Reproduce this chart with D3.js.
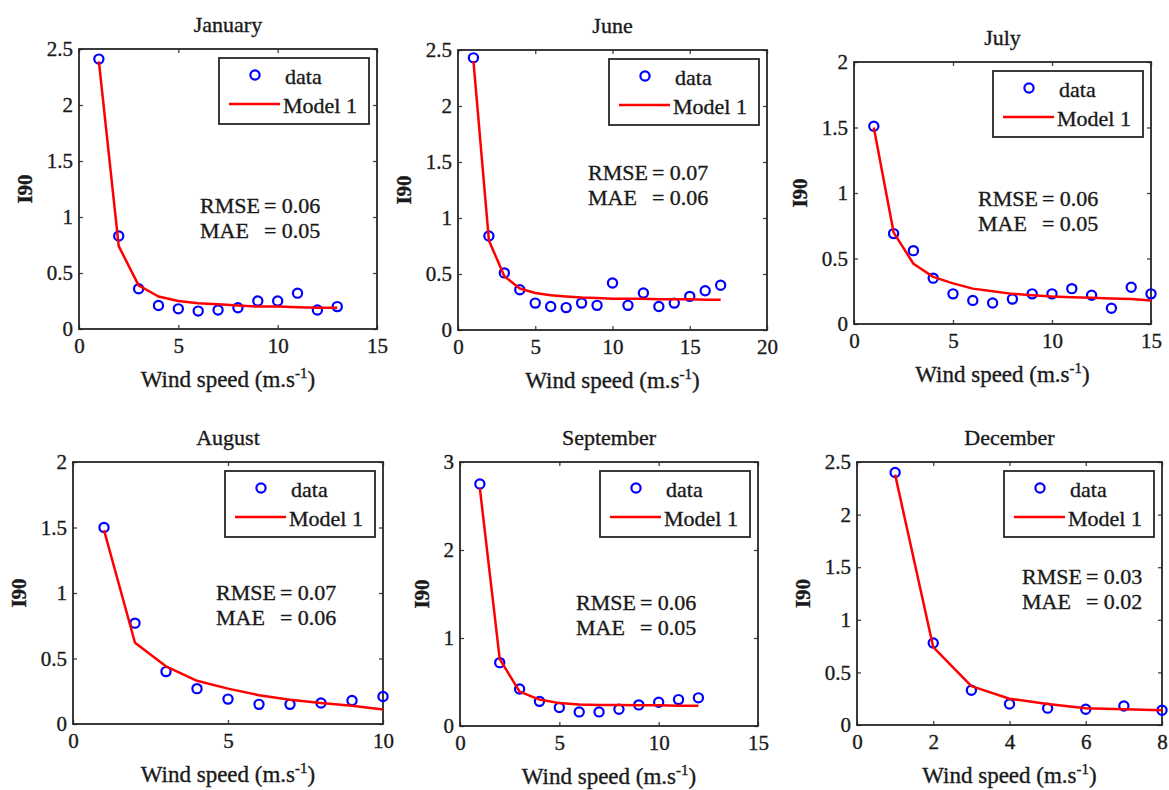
<!DOCTYPE html>
<html>
<head>
<meta charset="utf-8">
<script src="https://cdn.jsdelivr.net/npm/d3@7"></script>
<style>
  html, body { margin: 0; padding: 0; background: #fff; }
  svg { display: block; font-family: "Liberation Serif", "Times New Roman", serif; }
  svg text { stroke: #1a1a1a; stroke-width: 0.35px; fill: #1a1a1a; }
</style>
</head>
<body>
<svg id="chart" width="1169" height="790"></svg>
<script>
// ---- data -------------------------------------------------------------
const months = ["January", "June", "July", "August", "September", "December"];

const janSpeed    = [1, 2, 3, 4, 5, 6, 7, 8, 9, 10, 11, 12, 13];
const janObserved = [2.41, 0.83, 0.36, 0.21, 0.18, 0.16, 0.17, 0.19, 0.25, 0.25, 0.32, 0.17, 0.20];
const janModel    = [2.39, 0.74, 0.39, 0.29, 0.25, 0.23, 0.22, 0.21, 0.20, 0.20, 0.195, 0.19, 0.19];

const junSpeed    = [1, 2, 3, 4, 5, 6, 7, 8, 9, 10, 11, 12, 13, 14, 15, 16, 17];
const junObserved = [2.43, 0.84, 0.51, 0.36, 0.24, 0.21, 0.20, 0.24, 0.22, 0.42, 0.22, 0.33, 0.21, 0.24, 0.30, 0.35, 0.40];
const junModel    = [2.40, 0.80, 0.48, 0.37, 0.33, 0.31, 0.30, 0.29, 0.285, 0.28, 0.28, 0.28, 0.275, 0.275, 0.275, 0.27, 0.27];

const julSpeed    = [1, 2, 3, 4, 5, 6, 7, 8, 9, 10, 11, 12, 13, 14, 15];
const julObserved = [1.51, 0.69, 0.56, 0.35, 0.23, 0.18, 0.16, 0.19, 0.23, 0.23, 0.27, 0.22, 0.12, 0.28, 0.23];
const julModel    = [1.50, 0.70, 0.46, 0.36, 0.31, 0.27, 0.25, 0.23, 0.22, 0.21, 0.205, 0.20, 0.195, 0.19, 0.18];

const augSpeed    = [1, 2, 3, 4, 5, 6, 7, 8, 9, 10];
const augObserved = [1.50, 0.77, 0.40, 0.27, 0.19, 0.15, 0.15, 0.16, 0.18, 0.21];
const augModel    = [1.48, 0.62, 0.44, 0.33, 0.27, 0.22, 0.185, 0.16, 0.14, 0.11];

const sepSpeed    = [1, 2, 3, 4, 5, 6, 7, 8, 9, 10, 11, 12];
const sepObserved = [2.75, 0.72, 0.42, 0.28, 0.21, 0.16, 0.16, 0.19, 0.24, 0.27, 0.30, 0.32];
const sepModel    = [2.70, 0.76, 0.39, 0.30, 0.26, 0.245, 0.24, 0.24, 0.235, 0.235, 0.23, 0.23];

const decSpeed    = [1, 2, 3, 4, 5, 6, 7, 8];
const decObserved = [2.40, 0.78, 0.33, 0.20, 0.16, 0.15, 0.18, 0.14];
const decModel    = [2.38, 0.74, 0.37, 0.25, 0.20, 0.16, 0.15, 0.14];

const xTicks = [
  [0, 5, 10, 15],
  [0, 5, 10, 15, 20],
  [0, 5, 10, 15],
  [0, 5, 10],
  [0, 5, 10, 15],
  [0, 2, 4, 6, 8]
];
const yTicks = [
  [0, 0.5, 1, 1.5, 2, 2.5],
  [0, 0.5, 1, 1.5, 2, 2.5],
  [0, 0.5, 1, 1.5, 2],
  [0, 0.5, 1, 1.5, 2],
  [0, 1, 2, 3],
  [0, 0.5, 1, 1.5, 2, 2.5]
];
const rmseValues = ["0.06", "0.07", "0.06", "0.07", "0.06", "0.03"];
const maeValues  = ["0.05", "0.06", "0.05", "0.06", "0.05", "0.02"];

const seriesSpeed    = [janSpeed, junSpeed, julSpeed, augSpeed, sepSpeed, decSpeed];
const seriesObserved = [janObserved, junObserved, julObserved, augObserved, sepObserved, decObserved];
const seriesModel    = [janModel, junModel, julModel, augModel, sepModel, decModel];

// ---- layout -----------------------------------------------------------
// plot boxes: [left, top, right, bottom]
const boxes = [
  [79, 49, 377, 329],
  [458, 50, 767, 330],
  [854, 62, 1151, 324],
  [73, 462, 383, 724],
  [460, 462, 758, 726],
  [857, 462, 1162, 725]
];
// start / baseline of the error statistics text
const statsAt = [
  [200, 213], [588, 180], [978, 206],
  [216, 600], [576, 610], [1022, 584]
];

const INK = "#262626";
const svg = d3.select("#chart");

months.forEach((month, i) => {
  const [l, t, r, b] = boxes[i];
  const w = r - l, h = b - t;
  const xt = xTicks[i], yt = yTicks[i];

  const x = d3.scaleLinear().domain([xt[0], xt[xt.length - 1]]).range([0, w]);
  const y = d3.scaleLinear().domain([yt[0], yt[yt.length - 1]]).range([h, 0]);

  const g = svg.append("g").attr("transform", `translate(${l},${t})`);

  // axes with short inward ticks on all four sides
  const styleAxis = sel => {
    sel.select(".domain").remove();
    sel.attr("font-family", null).attr("font-size", null);
    sel.selectAll(".tick line").attr("stroke", "#444").attr("stroke-width", 1.3);
    sel.selectAll(".tick text").style("font-size", "21px");
  };
  g.append("g").attr("transform", `translate(0,${h})`)
    .call(d3.axisBottom(x).tickValues(xt).tickSize(-4).tickPadding(9).tickFormat(d3.format("")))
    .call(styleAxis);
  g.append("g")
    .call(d3.axisTop(x).tickValues(xt).tickSize(-4).tickFormat(""))
    .call(styleAxis);
  const leftAxis = g.append("g")
    .call(d3.axisLeft(y).tickValues(yt).tickSize(-4).tickPadding(6).tickFormat(d3.format("")))
    .call(styleAxis);
  g.append("g").attr("transform", `translate(${w},0)`)
    .call(d3.axisRight(y).tickValues(yt).tickSize(-4).tickFormat(""))
    .call(styleAxis);

  g.append("rect")
    .attr("width", w).attr("height", h)
    .attr("fill", "none").attr("stroke", INK).attr("stroke-width", 1.8);

  // title
  g.append("text")
    .attr("x", w / 2).attr("y", -17)
    .attr("text-anchor", "middle")
    .style("font-size", "22px")
    .text(month);

  // x label with superscript
  const xl = g.append("text")
    .attr("x", w / 2).attr("y", h + 58)
    .attr("text-anchor", "middle")
    .style("font-size", "23px");
  xl.append("tspan").text("Wind speed (m.s");
  xl.append("tspan").attr("dy", -9).style("font-size", "15px").text("-1");
  xl.append("tspan").attr("dy", 9).text(")");

  // y label
  let maxTick = 0;
  leftAxis.selectAll(".tick text").each(function () {
    maxTick = Math.max(maxTick, this.getComputedTextLength());
  });
  const yx = -6 - maxTick - 22;
  g.append("text")
    .attr("transform", `translate(${yx},${h / 2}) rotate(-90)`)
    .attr("text-anchor", "middle").attr("dy", "0.35em")
    .style("font-size", "21px").style("font-weight", "bold")
    .text("I90");

  // observations and model curve
  const speed = seriesSpeed[i], obs = seriesObserved[i], mod = seriesModel[i];
  g.append("g").selectAll("circle")
    .data(speed.map((s, k) => [s, obs[k]]))
    .join("circle")
    .attr("cx", d => x(d[0])).attr("cy", d => y(d[1]))
    .attr("r", 4.6)
    .attr("fill", "none").attr("stroke", "#0000ff").attr("stroke-width", 2.2);

  g.append("path")
    .datum(speed.map((s, k) => [s, mod[k]]))
    .attr("d", d3.line().x(d => x(d[0])).y(d => y(d[1])))
    .attr("fill", "none").attr("stroke", "#ff0000").attr("stroke-width", 2.5)
    .attr("stroke-linejoin", "round");

  // legend
  const lw = 150, lh = 66;
  const lg = g.append("g").attr("transform", `translate(${w - 8 - lw},9)`);
  lg.append("rect").attr("width", lw).attr("height", lh)
    .attr("fill", "#fff").attr("stroke", INK).attr("stroke-width", 1.8);
  lg.append("circle").attr("cx", 36).attr("cy", 17).attr("r", 4.6)
    .attr("fill", "none").attr("stroke", "#0000ff").attr("stroke-width", 2.2);
  lg.append("text").attr("x", 66).attr("y", 26)
    .style("font-size", "22px").text("data");
  lg.append("line").attr("x1", 10).attr("x2", 61).attr("y1", 46).attr("y2", 46)
    .attr("stroke", "#ff0000").attr("stroke-width", 2.5);
  lg.append("text").attr("x", 64).attr("y", 55)
    .style("font-size", "22px").text("Model 1");

  // error statistics
  const [sx, sy] = statsAt[i];
  const st = svg.append("g").style("font-size", "22px");
  const rLabel = st.append("text").attr("x", sx).attr("y", sy).text("RMSE");
  const eqX = sx + rLabel.node().getComputedTextLength() + 4;
  st.append("text").attr("x", eqX).attr("y", sy).text("= " + rmseValues[i]);
  st.append("text").attr("x", sx).attr("y", sy + 25).text("MAE");
  st.append("text").attr("x", eqX).attr("y", sy + 25).text("= " + maeValues[i]);
});
</script>
</body>
</html>
